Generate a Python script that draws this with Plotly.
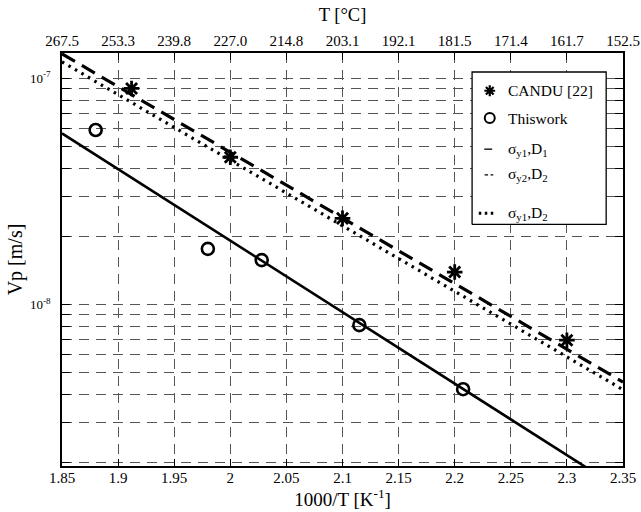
import plotly.graph_objects as go

# ---- data ----
x_ticks = [1.85, 1.90, 1.95, 2.00, 2.05, 2.10, 2.15, 2.20, 2.25, 2.30, 2.35]
x_tick_labels = ["1.85", "1.9", "1.95", "2", "2.05", "2.1", "2.15", "2.2", "2.25", "2.3", "2.35"]
top_tick_labels = ["267.5", "253.3", "239.8", "227.0", "214.8", "203.1",
                   "192.1", "181.5", "171.4", "161.7", "152.5"]

candu_x = [1.912, 2.0, 2.1, 2.2, 2.3]
candu_vp = [9.0e-8, 4.47e-8, 2.40e-8, 1.39e-8, 6.95e-9]

this_x = [1.88, 1.98, 2.028, 2.115, 2.2075]
this_vp = [5.9e-8, 1.76e-8, 1.57e-8, 8.1e-9, 4.22e-9]

fit_x = [1.85, 2.35]
s1d1_vp = [5.7e-8, 1.5e-9]
s2d2_vp = [1.28e-7, 4.54e-9]
s1d2_vp = [1.18e-7, 4.2e-9]

y_major_vals = [1e-8, 1e-7]
y_major_text = ["10<sup>-8</sup>", "10<sup>-7</sup>"]
y_minor_vals = [2e-9, 3e-9, 4e-9, 5e-9, 6e-9, 7e-9, 8e-9, 9e-9,
                2e-8, 3e-8, 4e-8, 5e-8, 6e-8, 7e-8, 8e-8, 9e-8]

legend_labels = ["CANDU [22]", "Thiswork",
                 "σ<sub>y1</sub>,D<sub>1</sub>",
                 "σ<sub>y2</sub>,D<sub>2</sub>",
                 "σ<sub>y1</sub>,D<sub>2</sub>"]

FONT = "Liberation Serif"
GRID = "#555555"
GDASH = "10px,7px"

fig = go.Figure()

fig.add_trace(go.Scatter(x=fit_x, y=s1d1_vp, mode="lines",
                         line=dict(color="black", width=2.6), showlegend=False))
fig.add_trace(go.Scatter(x=fit_x, y=s2d2_vp, mode="lines",
                         line=dict(color="black", width=3.2, dash="15px,8px"), showlegend=False))
fig.add_trace(go.Scatter(x=fit_x, y=s1d2_vp, mode="lines",
                         line=dict(color="black", width=3.2, dash="2.5px,5px"), showlegend=False))
fig.add_trace(go.Scatter(x=candu_x, y=candu_vp, mode="markers",
                         marker=dict(symbol="asterisk", size=13,
                                     line=dict(color="black", width=2.8)),
                         showlegend=False))
fig.add_trace(go.Scatter(x=this_x, y=this_vp, mode="markers",
                         marker=dict(symbol="circle-open", size=12, color="black",
                                     line=dict(color="black", width=2.6)),
                         showlegend=False))
# dummy trace so the top axis is drawn
fig.add_trace(go.Scatter(x=fit_x, y=s1d1_vp, xaxis="x2", mode="lines",
                         line=dict(width=0), opacity=0, hoverinfo="skip", showlegend=False))

# ---- custom legend (overlay axes in 0..1 units of the plot area) ----
bx0, bx1, by0, by1 = 0.731, 0.970, 0.585, 0.954
fig.add_trace(go.Scatter(x=[bx0, bx1, bx1, bx0, bx0], y=[by0, by0, by1, by1, by0],
                         xaxis="x3", yaxis="y3", mode="lines", fill="toself",
                         fillcolor="white", line=dict(color="black", width=1.3),
                         showlegend=False, hoverinfo="skip"))
lx = 0.7625
rows = [0.9086, 0.8424, 0.7672, 0.7049, 0.6120]
fig.add_trace(go.Scatter(x=[lx], y=[rows[0]], xaxis="x3", yaxis="y3", mode="markers",
                         marker=dict(symbol="asterisk", size=9,
                                     line=dict(color="black", width=2.2)),
                         showlegend=False, hoverinfo="skip"))
fig.add_trace(go.Scatter(x=[lx], y=[rows[1]], xaxis="x3", yaxis="y3", mode="markers",
                         marker=dict(symbol="circle-open", size=10, color="black",
                                     line=dict(color="black", width=2)),
                         showlegend=False, hoverinfo="skip"))
fig.add_trace(go.Scatter(x=[0.7527, 0.7669], y=[rows[2], rows[2]], xaxis="x3", yaxis="y3",
                         mode="lines", line=dict(color="black", width=1.3),
                         showlegend=False, hoverinfo="skip"))
fig.add_trace(go.Scatter(x=[0.7533, 0.7687], y=[rows[3], rows[3]], xaxis="x3", yaxis="y3",
                         mode="lines", line=dict(color="black", width=1.3, dash="3.5px,2.5px"),
                         showlegend=False, hoverinfo="skip"))
fig.add_trace(go.Scatter(x=[0.7429, 0.7695], y=[rows[4], rows[4]], xaxis="x3", yaxis="y3",
                         mode="lines", line=dict(color="black", width=3, dash="2.5px,3.5px"),
                         showlegend=False, hoverinfo="skip"))

for lab, ry in zip(legend_labels, rows):
    fig.add_annotation(x=0.791, y=ry, xref="x domain", yref="y domain",
                       text=lab, showarrow=False, xanchor="left", yanchor="middle",
                       font=dict(family=FONT, size=15.5, color="black"))

x_font = dict(family=FONT, size=15, color="black")
y_font = dict(family=FONT, size=13, color="black")

fig.update_layout(
    width=641, height=512,
    margin=dict(l=61.5, r=17.5, t=53.3, b=46.3, autoexpand=False),
    plot_bgcolor="white", paper_bgcolor="white",
    font=dict(family=FONT, color="black"),
    showlegend=False,
    xaxis=dict(range=[1.85, 2.35], tickvals=x_ticks, ticktext=x_tick_labels,
               ticks="inside", ticklen=7, tickwidth=1, tickcolor="black",
               showgrid=True, gridcolor=GRID, gridwidth=1, griddash=GDASH,
               showline=True, linecolor="black", linewidth=1.5, mirror=True,
               zeroline=False, tickfont=x_font, automargin=False,
               ticklabelstandoff=-3,
               title=dict(text="1000/T [K<sup>-1</sup>]",
                          font=dict(family=FONT, size=19, color="black"), standoff=7)),
    xaxis2=dict(range=[1.85, 2.35], overlaying="x", side="top",
                tickvals=x_ticks, ticktext=top_tick_labels,
                ticks="inside", ticklen=7, tickwidth=1, tickcolor="black",
                showgrid=False, zeroline=False, showline=False, tickfont=x_font,
                automargin=False, ticklabelstandoff=3,
                title=dict(text="T [°C]",
                           font=dict(family=FONT, size=18.5, color="black"), standoff=6)),
    yaxis=dict(type="log", range=[-8.714, -6.889],
               tickvals=y_major_vals, ticktext=y_major_text,
               ticks="inside", ticklen=8, tickwidth=1, tickcolor="black",
               showgrid=True, gridcolor=GRID, gridwidth=1, griddash=GDASH,
               minor=dict(tickvals=y_minor_vals, ticks="inside", ticklen=8,
                          tickcolor="black", tickwidth=1, showgrid=True,
                          gridcolor=GRID, gridwidth=1, griddash=GDASH),
               showline=True, linecolor="black", linewidth=1.5, mirror="ticks",
               zeroline=False, tickfont=y_font, ticklabelstandoff=7,
               automargin=False,
               title=dict(text="Vp [m/s]",
                          font=dict(family=FONT, size=20, color="black"), standoff=2)),
    xaxis3=dict(range=[0, 1], overlaying="x", visible=False),
    yaxis3=dict(range=[0, 1], overlaying="y", visible=False),
)

fig.write_html("out.html", config={"displayModeBar": False},
               post_script="document.body.style.margin='0';document.body.style.overflow='hidden';")
